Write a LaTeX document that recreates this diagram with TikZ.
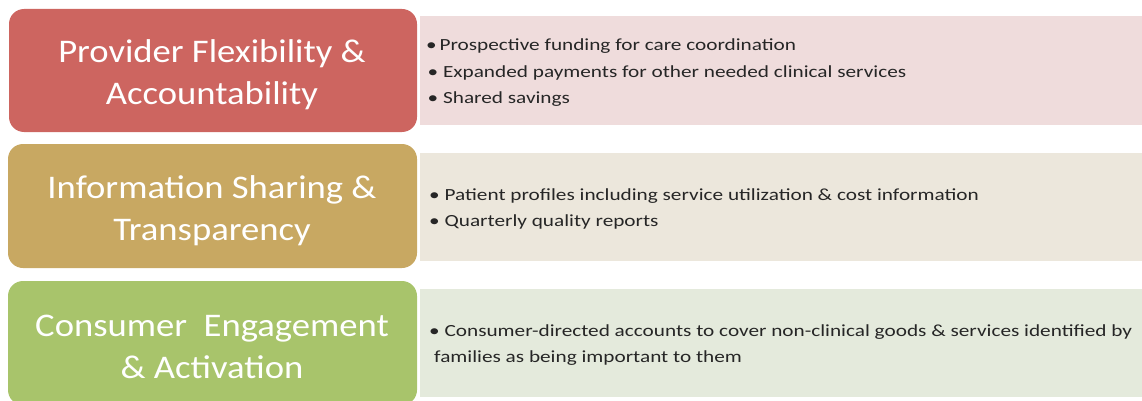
\documentclass[tikz,border=0pt]{standalone}
\usepackage{fontspec}
\setmainfont{Carlito}
\newfontfamily\headfont[FakeStretch=1.11]{Carlito}
\newfontfamily\listfont[FakeStretch=1.25]{Carlito}
\definecolor{redbox}{HTML}{CD6560}
\definecolor{goldbox}{HTML}{C8A862}
\definecolor{greenbox}{HTML}{A8C46B}
\definecolor{redpale}{HTML}{EFDCDC}
\definecolor{goldpale}{HTML}{ECE7DC}
\definecolor{greenpale}{HTML}{E4EADC}
\definecolor{bodytext}{HTML}{262626}
\begin{document}
\begin{tikzpicture}[x=1pt,y=-1pt,
  titlebox/.style={inner sep=0pt, text=white, align=center,
    font=\headfont\fontsize{33}{42}\selectfont},
  bullets/.style={anchor=west, align=left, text=bodytext, inner sep=0pt,
    font=\listfont\fontsize{17}{26.5}\selectfont}]
\useasboundingbox (0,0) rectangle (1142,401);
\clip (0,0) rectangle (1142,401);

% pale panels on the right
\fill[redpale]   (420,16)  rectangle (1142,125);
\fill[goldpale]  (420,153) rectangle (1142,261);
\fill[greenpale] (420,289) rectangle (1142,397);

% coloured title boxes
\fill[redbox,rounded corners=15pt]   (9,9)   rectangle (417,132);
\fill[goldbox,rounded corners=15pt]  (8,144) rectangle (417,268);
\fill[greenbox,rounded corners=15pt] (8,281) rectangle (417,405);

\node[titlebox] (t1) at (212,75)  {Provider Flexibility \&\\Accountability};
\node[titlebox] (t2) at (212,211) {Information Sharing \&\\Transparency};
\node[titlebox] (t3) at (212,347) {Consumer~~Engagement\\\&~Activation};

% bullet lists
\node[bullets] (b1) at (426,73)
  {\textbullet\,Prospective funding for care coordination\\
   \hspace{1.5pt}\textbullet~Expanded payments for other needed clinical services\\
   \hspace{1.5pt}\textbullet~Shared savings};
\node[bullets] (b2) at (429,209)
  {\textbullet~Patient profiles including service utilization \& cost information\\
   \textbullet~Quarterly quality reports};
\node[bullets] (b3) at (429,345)
  {\textbullet~Consumer-directed accounts to cover non-clinical goods \& services identified by\\
   \hspace{5pt}families as being important to them};
\end{tikzpicture}
\end{document}
